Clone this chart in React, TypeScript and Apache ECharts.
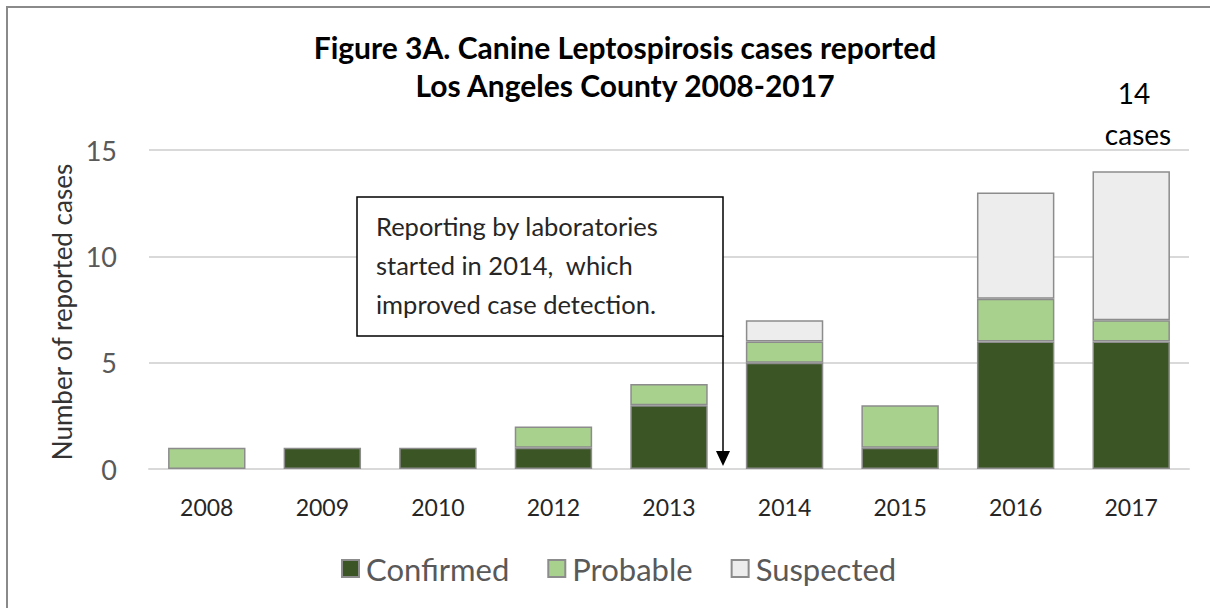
import React, { useEffect, useRef } from "react";
import * as echarts from "echarts";

const years = ["2008", "2009", "2010", "2012", "2013", "2014", "2015", "2016", "2017"];
const confirmed = [0, 1, 1, 1, 3, 5, 1, 6, 6];
const probable = [1, 0, 0, 1, 1, 1, 2, 2, 1];
const suspected = [0, 0, 0, 0, 0, 1, 0, 5, 7];
const seriesNames = ["Confirmed", "Probable", "Suspected"];
const seriesColors = ["#3b5524", "#a9d18e", "#ededed"];
const titleLines = ["Figure 3A. Canine Leptospirosis cases reported", "Los Angeles County 2008-2017"];
const noteLines = ["Reporting by laboratories", "started in 2014,  which", "improved case detection."];
const yTicks = { min: 0, max: 15, interval: 5 };

const FONT = "Lato";

export default function App() {
  const ref = useRef<HTMLDivElement>(null);
  useEffect(() => {
    const chart = echarts.init(ref.current!, null, { renderer: "svg" });
    const values = [confirmed, probable, suspected];
    chart.setOption({
      animation: false,
      textStyle: { fontFamily: FONT },
      grid: { left: 149, right: 21, top: 150, bottom: 139 },
      legend: {
        left: 336,
        top: 548,
        itemWidth: 17,
        itemHeight: 17,
        itemGap: 38,
        icon: "rect",
        textStyle: { fontFamily: FONT, fontSize: 31, color: "#595959", padding: [0, 0, 0, 2] },
        data: seriesNames,
      },
      xAxis: {
        type: "category",
        data: years,
        axisLine: { lineStyle: { color: "#d9d9d9", width: 2 } },
        axisTick: { show: false },
        axisLabel: { fontFamily: FONT, fontSize: 23, color: "#262626", margin: 26 },
      },
      yAxis: {
        type: "value",
        min: yTicks.min,
        max: yTicks.max,
        interval: yTicks.interval,
        splitLine: { lineStyle: { color: "#d9d9d9", width: 2 } },
        axisLabel: { fontFamily: FONT, fontSize: 27, color: "#595959", margin: 32 },
      },
      series: seriesNames.map((name, i) => ({
        name,
        type: "bar",
        stack: "total",
        barCategoryGap: "33%",
        data: values[i].map((v) => (v === 0 ? "-" : v)),
        itemStyle: { color: seriesColors[i], borderColor: "#8c8c8c", borderWidth: 1.5 },
      })),
      graphic: [
        {
          type: "rect",
          z: 200,
          shape: { x: 7, y: 7, width: 1260, height: 660 },
          style: { fill: "none", stroke: "#8a8a8a", lineWidth: 2 },
        },
        ...titleLines.map((t, i) => ({
          type: "text",
          z: 200,
          x: 625,
          y: 47 + i * 38,
          style: {
            text: t,
            fontFamily: FONT,
            fontWeight: "bold",
            fontSize: 30,
            fill: "#000",
            textAlign: "center",
            textVerticalAlign: "middle",
          },
        })),
        {
          type: "text",
          z: 200,
          x: 62,
          y: 312,
          rotation: Math.PI / 2,
          style: {
            text: "Number of reported cases",
            fontFamily: FONT,
            fontSize: 26,
            fill: "#333",
            textAlign: "center",
            textVerticalAlign: "middle",
          },
        },
        {
          type: "rect",
          z: 200,
          shape: { x: 357, y: 197, width: 366, height: 139 },
          style: { fill: "#fff", stroke: "#000", lineWidth: 1.5 },
        },
        ...noteLines.map((t, i) => ({
          type: "text",
          z: 201,
          x: 376,
          y: 226 + i * 39,
          style: {
            text: t,
            fontFamily: FONT,
            fontSize: 25.5,
            fill: "#262626",
            textAlign: "left",
            textVerticalAlign: "middle",
          },
        })),
        {
          type: "line",
          z: 200,
          shape: { x1: 723, y1: 336, x2: 723, y2: 453 },
          style: { stroke: "#000", lineWidth: 1.5 },
        },
        {
          type: "polygon",
          z: 200,
          shape: { points: [[716, 451], [730, 451], [723, 466]] },
          style: { fill: "#000" },
        },
        {
          type: "text",
          z: 200,
          x: 1134,
          y: 93,
          style: { text: "14", fontFamily: FONT, fontSize: 28, fill: "#000", textAlign: "center", textVerticalAlign: "middle" },
        },
        {
          type: "text",
          z: 200,
          x: 1138,
          y: 134,
          style: { text: "cases", fontFamily: FONT, fontSize: 28, fill: "#000", textAlign: "center", textVerticalAlign: "middle" },
        },
      ],
    });
    return () => chart.dispose();
  }, []);
  return (
    <div
      ref={ref}
      style={{ position: "fixed", left: 0, top: 0, width: 1210, height: 608, background: "#fff" }}
    />
  );
}
